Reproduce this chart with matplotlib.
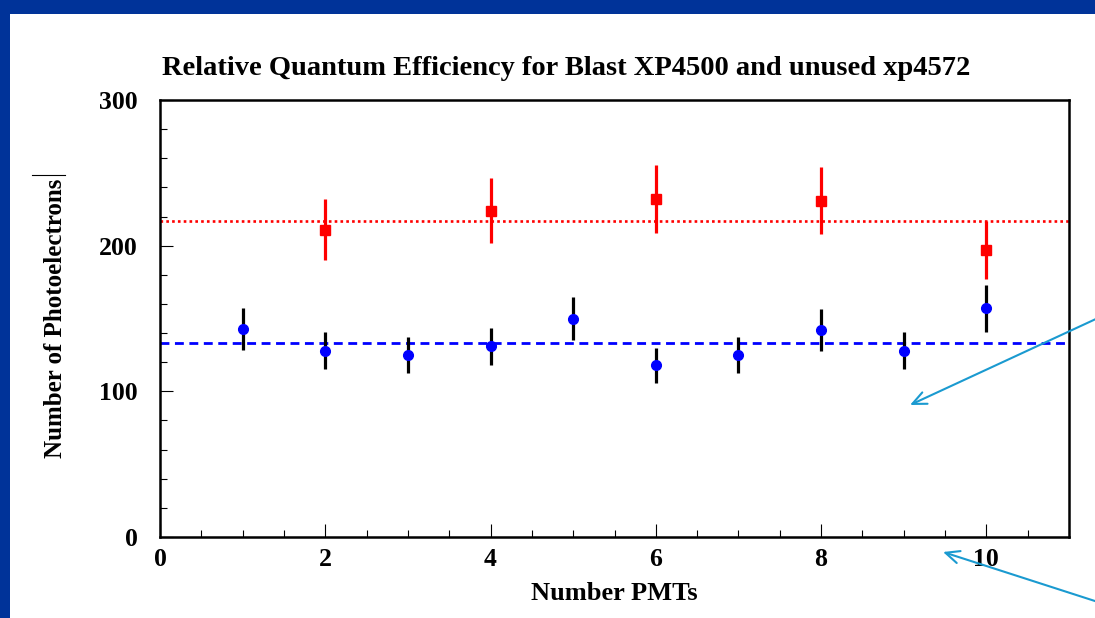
import matplotlib
matplotlib.use("Agg")
import matplotlib.pyplot as plt
from matplotlib.patches import Rectangle
from matplotlib.lines import Line2D
from matplotlib.ticker import MultipleLocator

# data
xp4500_x = [1, 2, 3, 4, 5, 6, 7, 8, 9, 10]
xp4500_y = [143, 128, 125, 131, 150, 118, 125, 142, 128, 157]
xp4500_err = [14.5, 12.8, 12.6, 12.8, 14.8, 12.0, 12.5, 14.5, 12.9, 16.0]
xp4500_mean = 133

xp4572_x = [2, 4, 6, 8, 10]
xp4572_y = [211, 224, 232, 231, 197]
xp4572_err = [21, 22.5, 23.5, 23, 19.8]
xp4572_mean = 217

title = "Relative Quantum Efficiency for Blast XP4500 and unused xp4572"
xlabel = "Number PMTs"
ylabel = "Number of Photoelectrons"

W, H = 1095, 618
fig = plt.figure(figsize=(W / 100, H / 100), dpi=100)
fig.patch.set_facecolor("white")

serif = ["Liberation Serif", "DejaVu Serif"]

# blue frame of the slide
border = "#003399"
fig.patches.append(Rectangle((0, 1 - 14 / H), 1, 14 / H, transform=fig.transFigure,
                             facecolor=border, edgecolor="none", zorder=0))
fig.patches.append(Rectangle((0, 0), 10 / W, 1, transform=fig.transFigure,
                             facecolor=border, edgecolor="none", zorder=0))

left, right, top, bottom = 160 / W, 1069 / W, 1 - 100 / H, 1 - 537 / H
ax = fig.add_axes([left, bottom, right - left, top - bottom])
ax.set_xlim(0, 11)
ax.set_ylim(0, 300)

ax.axhline(xp4572_mean, color="red", linestyle=(0, (1.0, 1.2)), linewidth=1.9, zorder=2)
ax.axhline(xp4500_mean, color="blue", linestyle=(0, (3.2, 2.0)), linewidth=2.0, zorder=2)

ax.errorbar(xp4500_x, xp4500_y, yerr=xp4500_err, fmt="o", color="blue", markersize=7,
            ecolor="black", elinewidth=2.3, capsize=0, zorder=3)
ax.errorbar(xp4572_x, xp4572_y, yerr=xp4572_err, fmt="s", color="red", markersize=6.5,
            ecolor="red", elinewidth=2.3, capsize=0, zorder=3)

for s in ax.spines.values():
    s.set_linewidth(1.8)
ax.xaxis.set_major_locator(MultipleLocator(2))
ax.xaxis.set_minor_locator(MultipleLocator(0.5))
ax.yaxis.set_major_locator(MultipleLocator(100))
ax.yaxis.set_minor_locator(MultipleLocator(20))
ax.tick_params(which="both", direction="in", width=0.8, top=False, right=False)
ax.tick_params(which="major", length=9.5)
ax.tick_params(which="minor", length=5)
ax.tick_params(axis="y", which="major", pad=16)
ax.tick_params(axis="x", which="major", pad=8)
for lab in ax.get_xticklabels() + ax.get_yticklabels():
    lab.set_fontfamily(serif)
    lab.set_fontweight("bold")
    lab.set_fontsize(18.5)

fig.text(566 / W, 1 - 75 / H, title, fontfamily=serif, fontweight="bold", fontsize=20.5,
         ha="center", va="baseline")
ax.set_xlabel(xlabel, fontfamily=serif, fontweight="bold", fontsize=19, labelpad=8)
ax.set_ylabel(ylabel, fontfamily=serif, fontweight="bold", fontsize=18, labelpad=23)

# small overline artifact above the y label
fig.lines.append(Line2D([32 / W, 65 / W], [1 - 175 / H, 1 - 175 / H], transform=fig.transFigure,
                        color="black", linewidth=0.8))

# cyan annotation arrows
arrow_c = "#1a9ad0"
fig_ax = fig.add_axes([0, 0, 1, 1], facecolor="none")
fig_ax.set_xlim(0, W)
fig_ax.set_ylim(H, 0)
fig_ax.axis("off")
ap = dict(arrowstyle="->,head_length=1.0,head_width=0.45", color=arrow_c, linewidth=1.5,
          shrinkA=0, shrinkB=0)
fig_ax.annotate("", xy=(910, 405), xytext=(1098, 318), arrowprops=ap)
fig_ax.annotate("", xy=(943, 552), xytext=(1098, 602), arrowprops=ap)

fig.savefig("out.png", dpi=100)
